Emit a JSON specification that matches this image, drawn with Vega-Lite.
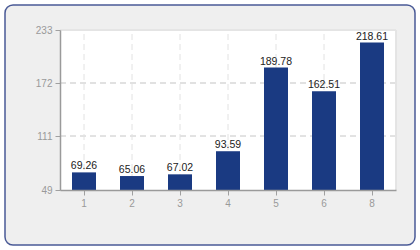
{
  "$schema": "https://vega.github.io/schema/vega-lite/v6.json",
  "width": 410,
  "height": 240,
  "padding": 5,
  "autosize": "none",
  "background": "#ffffff",
  "config": {
    "view": {"fill": "#efefef", "stroke": "#4a5a96", "strokeWidth": 1.5, "cornerRadius": 8},
    "font": "Liberation Sans"
  },
  "data": {
    "values": [
      {"cat": "1", "value": 69.26},
      {"cat": "2", "value": 65.06},
      {"cat": "3", "value": 67.02},
      {"cat": "4", "value": 93.59},
      {"cat": "5", "value": 189.78},
      {"cat": "6", "value": 162.51},
      {"cat": "8", "value": 218.61}
    ]
  },
  "encoding": {
    "x": {
      "field": "cat",
      "type": "ordinal",
      "sort": null,
      "scale": {"type": "band", "range": [55, 391], "paddingInner": 0, "paddingOuter": 0},
      "axis": {
        "title": null,
        "orient": "bottom",
        "offset": -55,
        "labelAngle": 0,
        "labelColor": "#9a9a9a",
        "labelFontSize": 10,
        "labelPadding": 3,
        "tickColor": "#a0a0a0",
        "tickSize": 5,
        "domainColor": "#9a9a9a",
        "domainWidth": 1.5,
        "grid": false,
        "zindex": 1
      }
    }
  },
  "layer": [
    {
      "mark": {"type": "bar", "color": "#ffffff", "width": {"band": 1}},
      "encoding": {
        "y": {
          "datum": 233,
          "type": "quantitative",
          "scale": {"domain": [49, 233], "range": [185, 25], "nice": false, "zero": false},
          "axis": {
            "title": null,
            "orient": "left",
            "offset": -55,
            "values": [49, 111, 172, 233],
            "labelColor": "#9a9a9a",
            "labelFontSize": 10,
            "labelPadding": 3,
            "tickColor": "#a0a0a0",
            "tickSize": 5,
            "domainColor": "#9a9a9a",
            "domainWidth": 1.5,
            "grid": false,
            "zindex": 1
          }
        },
        "y2": {"datum": 49}
      }
    },
    {
      "mark": {"type": "rule", "color": "#e2e2e2", "strokeDash": [6, 4], "strokeWidth": 1},
      "encoding": {
        "y": {"datum": 49, "type": "quantitative"},
        "y2": {"datum": 233}
      }
    },
    {
      "mark": {"type": "rule", "color": "#e2e2e2", "strokeDash": [6, 4], "strokeWidth": 1},
      "encoding": {
        "x": {"datum": "1", "type": "ordinal", "bandPosition": 0},
        "x2": {"datum": "8", "bandPosition": 1},
        "y": {"datum": 111, "type": "quantitative"}
      }
    },
    {
      "mark": {"type": "rule", "color": "#e2e2e2", "strokeDash": [6, 4], "strokeWidth": 1},
      "encoding": {
        "x": {"datum": "1", "type": "ordinal", "bandPosition": 0},
        "x2": {"datum": "8", "bandPosition": 1},
        "y": {"datum": 172, "type": "quantitative"}
      }
    },
    {
      "mark": {"type": "rule", "color": "#e4e4e4", "strokeWidth": 1},
      "encoding": {
        "x": {"datum": "1", "type": "ordinal", "bandPosition": 0},
        "x2": {"datum": "8", "bandPosition": 1},
        "y": {"datum": 233, "type": "quantitative"}
      }
    },
    {
      "mark": {"type": "rule", "color": "#e4e4e4", "strokeWidth": 1},
      "encoding": {
        "x": {"datum": "8", "type": "ordinal", "bandPosition": 1},
        "y": {"datum": 49, "type": "quantitative"},
        "y2": {"datum": 233}
      }
    },
    {
      "mark": {"type": "bar", "color": "#1a3a82", "width": {"band": 0.5}},
      "encoding": {
        "y": {"field": "value", "type": "quantitative"},
        "y2": {"datum": 49}
      }
    },
    {
      "mark": {"type": "text", "baseline": "bottom", "dy": -1, "fontSize": 10.5, "color": "#222222"},
      "encoding": {
        "y": {"field": "value", "type": "quantitative"},
        "text": {"field": "value", "type": "quantitative", "format": ".2f"}
      }
    }
  ]
}
